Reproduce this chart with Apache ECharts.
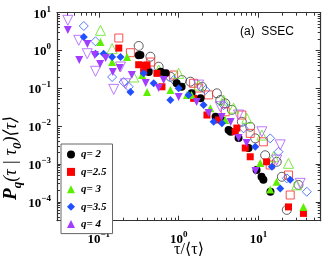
<!DOCTYPE html>
<html><head><meta charset="utf-8">
<script src="https://cdn.jsdelivr.net/npm/echarts@6/dist/echarts.min.js"></script>
<style>html,body{margin:0;padding:0;background:#fff}#c{width:327px;height:261px}</style>
</head><body><div id="c"></div>
<script>
// ---- data ----
const seriesNames = ['q= 2', 'q=2.5', 'q= 3', 'q=3.5', 'q= 4'];
// filled markers
const q2X   = [0.316,0.332,0.422,0.596,0.688,0.944,1.09,1.45,1.88,2.90,3.45,4.22,4.47,5.62,7.5,9.44,10.9,11.5,14.1];
const q2Y   = [0.746,0.76,0.27,0.275,0.249,0.136,0.110,0.0738,0.0543,0.0177,0.0146,0.0079,0.0071,0.00484,0.00264,0.00069,0.000458,0.00038,0.000184];
const q25X  = [0.178,0.316,0.365,0.384,0.402,0.535,0.618,1.54,2.26,3.16,5.11,5.35,6.82,7.87,12.6,23.7,36.5];
const q25Y  = [1.16,0.421,0.275,0.406,0.414,0.249,0.110,0.0543,0.0197,0.0146,0.0071,0.0089,0.00264,0.00155,0.00114,0.0000733,0.0000493];
const q3X   = [0.105,0.147,0.226,0.348,0.402,0.788,1.27,1.45,2.49,3.83,10.5,14.0,16.8,36.5];
const q3Y   = [1.68,0.496,0.673,0.225,0.0798,0.090,0.067,0.067,0.0296,0.0146,0.00106,0.00021,0.000338,0.0000733];
const q35X  = [0.0649,0.091,0.115,0.147,0.187,0.249,0.365,0.487,0.788,1.0,1.33,2.05,2.74,3.48,9.1,14.7,18.7,24.9];
const q35Y  = [2.28,0.823,0.823,0.673,0.673,0.0798,0.249,0.136,0.049,0.1,0.067,0.036,0.0131,0.0119,0.00285,0.000843,0.000226,0.00038];
const q4X   = [0.041,0.057,0.072,0.089,0.104,0.122,0.150,0.183,0.259,0.387,0.562,0.649,1.0,1.68,2.37,3.45,4.47,5.62,7.08,9.17];
const q4Y   = [3.48,0.561,1.49,0.76,0.44,0.63,0.27,0.344,0.225,0.138,0.102,0.166,0.0589,0.0434,0.0222,0.0174,0.0128,0.00484,0.00357,0.00065];
// open markers
const q2oX  = [0.316,0.443,0.562,0.788,1.10,1.40,1.96,3.01,3.32,3.83,4.64,6.18,7.87,9.1,12.1,16.9,19.6,22.6,31.6];
const q2oY  = [1.32,0.686,0.373,0.203,0.166,0.150,0.110,0.0738,0.049,0.0401,0.027,0.0131,0.00964,0.00475,0.0017,0.00114,0.000458,0.000061,0.00028];
const q25oX = [0.178,0.249,0.447,0.866,1.54,1.78,2.37,3.83,6.18,7.87,11.5,14.0,23.7,24.9];
const q25oY = [2.14,0.875,0.496,0.225,0.136,0.102,0.067,0.024,0.0197,0.00645,0.00386,0.00094,0.00051,0.000151];
const q3oX  = [0.105,0.147,0.274,0.562,1.0,1.78,3.65,4.87,7.13,11.0,15.4,23.7,30.1];
const q3oY  = [3.42,1.12,0.199,0.305,0.249,0.122,0.049,0.030,0.0161,0.0058,0.00155,0.00104,0.00028];
const q35oX = [0.0649,0.091,0.147,0.205,0.237,0.422,0.866,2.16,3.65,6.49,14.0,17.8,22.6,40.2];
const q35oY = [4.45,1.75,0.199,0.147,0.110,0.305,0.166,0.090,0.036,0.00875,0.00475,0.0021,0.000416,0.000184];
const q4oX  = [0.041,0.0562,0.0717,0.091,0.154,0.187,0.216,0.365,0.649,1.78,3.32,5.62,11.0,16.9,18.7,33.2];
const q4oY  = [6.3,1.86,0.823,0.282,0.094,0.366,0.132,0.305,0.225,0.122,0.0326,0.0197,0.0071,0.00127,0.0032,0.000307];
// axes
const xMin = 0.03, xMax = 60, yMin = 3.16e-5, yMax = 10;
const xMajor = [0.1, 1, 10];
const yMajor = [1e-4, 1e-3, 1e-2, 1e-1, 1, 10];
const annotation = '(a)  SSEC';

// ---- build ----
function minorTicks(lo, hi) {
  const out = [];
  for (let e = -6; e <= 2; e++) for (let m = 2; m <= 9; m++) {
    const v = m * Math.pow(10, e);
    if (v > lo * 1.0001 && v < hi * 0.9999) out.push(+v.toPrecision(3));
  }
  return out;
}
const xMinor = minorTicks(xMin, xMax), yMinor = minorTicks(yMin, yMax);
const zip = (a, b) => a.map((v, i) => [v, b[i]]);
const colors = ['#000000', '#ff0000', '#5cf000', '#1f4fff', '#a23cff'];
const symbols = ['circle', 'rect', 'triangle', 'diamond', 'triangle'];
const rots = [0, 0, 0, 0, 180];
const fSizes = [8, 7, 8, 8, 8];
const oSizes = [9, 8, 10, 9, 10];
const filled = [[q2X,q2Y],[q25X,q25Y],[q3X,q3Y],[q35X,q35Y],[q4X,q4Y]];
const open = [[q2oX,q2oY],[q25oX,q25oY],[q3oX,q3oY],[q35oX,q35oY],[q4oX,q4oY]];
const openColors = ['#444444', '#ff3030', '#66e622', '#3a64ff', '#b060ff'];

const series = [];
open.forEach((d, i) => series.push({
  type: 'scatter', name: 'open ' + seriesNames[i], data: zip(d[0], d[1]),
  symbol: symbols[i], symbolRotate: rots[i], symbolSize: oSizes[i],
  itemStyle: { color: 'rgba(255,255,255,0)', borderColor: openColors[i], borderWidth: 1, opacity: 0.85 },
  emphasis: { disabled: true }, silent: true, z: 2
}));
filled.forEach((d, i) => series.push({
  type: 'scatter', name: seriesNames[i], data: zip(d[0], d[1]),
  symbol: symbols[i], symbolRotate: rots[i], symbolSize: fSizes[i],
  itemStyle: { color: colors[i], opacity: 1 },
  emphasis: { disabled: true }, silent: true, z: 3
}));

const lineStyle = { color: '#333', width: 1.2 };
const rich = {
  b: { fontFamily: 'Liberation Serif', fontWeight: 'bold', fontSize: 13, color: '#000', verticalAlign: 'bottom' },
  s: { fontFamily: 'Liberation Serif', fontWeight: 'bold', fontSize: 9, color: '#000', verticalAlign: 'bottom', padding: [0, 0, 7, 0] }
};
const fmt = v => '{b|10}{s|' + String(Math.round(Math.log10(v))).replace('-', '\u2212') + '}';

function axis(type, pos, min, max, major, minor, showLine, showLabel, tickSet, len) {
  return {
    type: 'log', logBase: 10, position: pos, min: min, max: max, gridIndex: 0,
    axisLine: { show: showLine, onZero: false, lineStyle: lineStyle },
    axisTick: { show: true, inside: true, length: len, customValues: tickSet, lineStyle: { color: '#333', width: 1 } },
    axisLabel: showLabel ? { show: true, customValues: major, formatter: fmt, rich: rich, margin: type === 'x' ? 9 : 6 } : { show: false },
    minorTick: { show: false }, splitLine: { show: false }
  };
}

const option = {
  animation: false,
  backgroundColor: '#fff',
  grid: { left: 57, top: 12.7, right: 6.3, bottom: 40.3, containLabel: false },
  xAxis: [
    axis('x', 'bottom', xMin, xMax, xMajor, xMinor, true, true, xMajor, 5),
    axis('x', 'bottom', xMin, xMax, xMajor, xMinor, false, false, xMinor, 3),
    axis('x', 'top', xMin, xMax, xMajor, xMinor, true, false, xMajor, 5),
    axis('x', 'top', xMin, xMax, xMajor, xMinor, false, false, xMinor, 3)
  ],
  yAxis: [
    axis('y', 'left', yMin, yMax, yMajor, yMinor, true, true, yMajor, 5),
    axis('y', 'left', yMin, yMax, yMajor, yMinor, false, false, yMinor, 3),
    axis('y', 'right', yMin, yMax, yMajor, yMinor, true, false, yMajor, 5),
    axis('y', 'right', yMin, yMax, yMajor, yMinor, false, false, yMinor, 3)
  ],
  legend: {
    data: seriesNames, orient: 'vertical', left: 61, top: 144,
    itemWidth: 8, itemHeight: 8, itemGap: 6.4, padding: [5, 6, 4, 6],
    backgroundColor: '#fff', borderColor: '#666', borderWidth: 1, borderRadius: 0,
    selectedMode: false,
    textStyle: { fontFamily: 'Liberation Serif', fontWeight: 'bold', fontStyle: 'italic', fontSize: 11, color: '#000', padding: [0, 0, 0, 1] }
  },
  graphic: [
    { type: 'text', x: 13, y: 158, rotation: Math.PI / 2, z: 10,
      style: { text: '{p|P}{q|q}{t|(\u03c4 | \u03c4}{z|0}{t|)\u27e8\u03c4\u27e9}', align: 'center', verticalAlign: 'middle',
        rich: {
          p: { fontFamily: 'Liberation Serif', fontWeight: 'bold', fontStyle: 'italic', fontSize: 19, fill: '#000', verticalAlign: 'bottom', padding: [0, 0, 4, 0] },
          q: { fontFamily: 'Liberation Serif', fontWeight: 'bold', fontStyle: 'italic', fontSize: 13, fill: '#000', verticalAlign: 'bottom' },
          t: { fontFamily: 'Liberation Serif, DejaVu Serif', fontStyle: 'italic', fontSize: 18, fill: '#000', verticalAlign: 'bottom', padding: [0, 0, 4, 0] },
          z: { fontFamily: 'Liberation Serif', fontStyle: 'italic', fontWeight: 'bold', fontSize: 13, fill: '#000', verticalAlign: 'bottom' }
        } } },
    { type: 'text', x: 189, y: 250, z: 10,
      style: { text: '\u03c4/\u27e8\u03c4\u27e9', align: 'center', verticalAlign: 'middle',
        font: '16px "Liberation Serif", "DejaVu Serif"', fill: '#000' } },
    { type: 'text', x: 240, y: 32, z: 10,
      style: { text: annotation, align: 'left', verticalAlign: 'middle',
        font: '12px "Liberation Sans"', fill: '#000' } }
  ],
  series: series
};
const chart = echarts.init(document.getElementById('c'), null, { renderer: 'canvas' });
chart.setOption(option);
</script></body></html>
